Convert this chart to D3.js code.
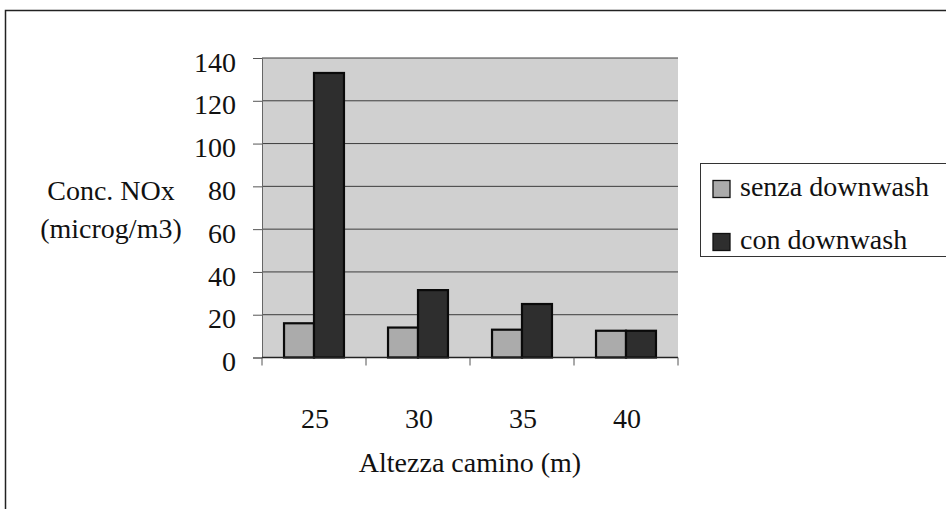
<!DOCTYPE html>
<html>
<head>
<meta charset="utf-8">
<script src="https://cdn.jsdelivr.net/npm/d3@7"></script>
<style>
  html, body { margin: 0; padding: 0; background: #fff; }
  svg { display: block; }
  svg text { font-family: "Liberation Serif", "Times New Roman", serif; fill: #111; }
</style>
</head>
<body>
<svg id="chart" width="946" height="509"></svg>
<script>
// Stack heights (m) and NOx concentrations (microg/m3)
const categories = ["25", "30", "35", "40"];
const seriesNames = ["senza downwash", "con downwash"];
const senzaDownwash = [16, 14, 13, 12.5];
const conDownwash = [133, 31.5, 25, 12.5];
const yTicks = [0, 20, 40, 60, 80, 100, 120, 140];

const colors = { "senza downwash": "#ababab", "con downwash": "#2e2e2e" };
const FS = 28;

const svg = d3.select("#chart");
const plot = { left: 262, right: 678, top: 58, bottom: 357.5 };

// Outer chart frame
svg.append("path")
  .attr("d", "M5.5,509 L5.5,10.5 L946,10.5")
  .attr("fill", "none").attr("stroke", "#222").attr("stroke-width", 1.5);

const x = d3.scaleBand().domain(categories).range([plot.left, plot.right]).paddingInner(0).paddingOuter(0);
const xs = d3.scaleBand().domain(seriesNames).range([0, x.bandwidth()]).paddingInner(0).paddingOuter(0.735);
const y = d3.scaleLinear().domain([0, 140]).range([plot.bottom, plot.top]);

// Plot background
svg.append("rect")
  .attr("x", plot.left).attr("y", plot.top)
  .attr("width", plot.right - plot.left).attr("height", plot.bottom - plot.top)
  .attr("fill", "#d0d0d0");

// Horizontal gridlines
svg.append("g").selectAll("line").data(yTicks.filter(t => t > 0)).join("line")
  .attr("x1", plot.left).attr("x2", plot.right)
  .attr("y1", d => y(d)).attr("y2", d => y(d))
  .attr("stroke", "#3c3c3c").attr("stroke-width", 1);

// Bars
const rows = categories.map((c, i) => ({ cat: c, values: [
  { s: seriesNames[0], v: senzaDownwash[i] },
  { s: seriesNames[1], v: conDownwash[i] }
]}));

const groups = svg.append("g").selectAll("g").data(rows).join("g")
  .attr("transform", d => `translate(${x(d.cat)},0)`);
groups.selectAll("rect").data(d => d.values).join("rect")
  .attr("x", d => xs(d.s)).attr("width", xs.bandwidth())
  .attr("y", d => y(d.v)).attr("height", d => y(0) - y(d.v))
  .attr("fill", d => colors[d.s])
  .attr("stroke", "#0a0a0a").attr("stroke-width", 2.2);

// Y axis
const yAxis = d3.axisLeft(y).tickValues(yTicks).tickSize(9).tickPadding(17).tickFormat(d3.format("d"));
const gy = svg.append("g").attr("transform", `translate(${plot.left},0)`).call(yAxis);
gy.attr("font-family", null).attr("font-size", null);
gy.select(".domain").attr("stroke", "#666").attr("stroke-width", 1);
gy.selectAll(".tick line").attr("stroke", "#555");
gy.selectAll(".tick text").attr("font-size", FS).attr("dy", "0.47em").attr("fill", "#111");

// X axis: ticks sit on the category boundaries
const gx = svg.append("g").attr("transform", `translate(0,${plot.bottom})`);
gx.append("line").attr("x1", plot.left).attr("x2", plot.right).attr("y1", 0).attr("y2", 0)
  .attr("stroke", "#222").attr("stroke-width", 1.5);
const boundaries = categories.map(c => x(c)).concat([x(categories[categories.length - 1]) + x.bandwidth()]);
gx.selectAll("line.b").data(boundaries).join("line").attr("class", "b")
  .attr("x1", d => d).attr("x2", d => d).attr("y1", 0).attr("y2", 8)
  .attr("stroke", "#555");
gx.selectAll("text").data(categories).join("text")
  .attr("x", d => x(d) + x.bandwidth() / 2 + 1).attr("y", 70)
  .attr("text-anchor", "middle").attr("font-size", FS)
  .text(d => d);

// Axis titles
svg.append("text").attr("x", 470).attr("y", 472).attr("text-anchor", "middle")
  .attr("font-size", FS).text("Altezza camino (m)");
svg.append("text").attr("x", 111).attr("y", 200).attr("text-anchor", "middle")
  .attr("font-size", FS).text("Conc. NOx");
svg.append("text").attr("x", 111).attr("y", 238).attr("text-anchor", "middle")
  .attr("font-size", FS).text("(microg/m3)");

// Legend
const legend = svg.append("g");
legend.append("rect").attr("x", 700.5).attr("y", 163.5).attr("width", 260).attr("height", 93)
  .attr("fill", "#fff").attr("stroke", "#333").attr("stroke-width", 1);
const li = legend.selectAll("g").data(seriesNames).join("g")
  .attr("transform", (d, i) => `translate(713,${189 + i * 53})`);
li.append("rect").attr("x", 0).attr("y", -8.5).attr("width", 17).attr("height", 17)
  .attr("fill", d => colors[d]).attr("stroke", "#111").attr("stroke-width", 1.3);
li.append("text").attr("x", 27).attr("y", 7).attr("font-size", FS).text(d => d);
</script>
</body>
</html>
